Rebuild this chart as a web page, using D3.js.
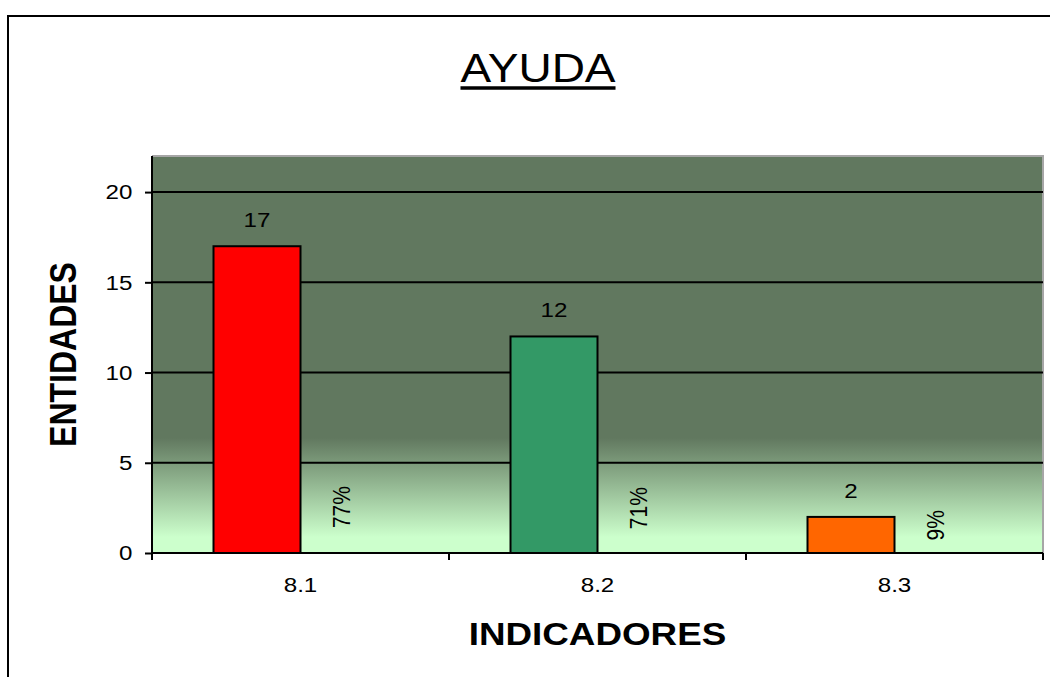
<!DOCTYPE html>
<html>
<head>
<meta charset="utf-8">
<script src="https://cdn.jsdelivr.net/npm/d3@7"></script>
<style>
  html, body { margin: 0; padding: 0; background: #ffffff; }
  svg { display: block; font-family: "Liberation Sans", Arial, sans-serif; }
</style>
</head>
<body>
<svg id="chart" width="1050" height="677"></svg>
<script>
// Indicator categories and their values
const categories = ["8.1", "8.2", "8.3"];
const counts = [17, 12, 2];
const shares = [0.77, 0.71, 0.09];
const shareLabels = ["77%", "71%", "9%"];
const yTicks = [0, 5, 10, 15, 20];
const barColors = ["#ff0000", "#339966", "#ff6600"];

const W = 1050, H = 677;
const plot = { left: 152, right: 1043, top: 156, bottom: 553 };
const SX = 1.15; // horizontal stretch of the lettering
const LABEL_SIZE = 21;

const svg = d3.select("#chart");

// Outer chart frame
svg.append("rect")
  .attr("x", 8).attr("y", 16)
  .attr("width", 1100).attr("height", 700)
  .attr("fill", "#ffffff")
  .attr("stroke", "#000").attr("stroke-width", 2);

// Scales
const x = d3.scaleBand().domain(categories).range([plot.left, plot.right]).paddingInner(0).paddingOuter(0);
const sub = d3.scaleBand().domain(["count", "share"]).range([0, x.bandwidth()]).paddingInner(0).paddingOuter(0.707);
const y = d3.scaleLinear().domain([0, 22]).range([plot.bottom, plot.top]);

// Plot background gradient
const defs = svg.append("defs");
const grad = defs.append("linearGradient").attr("id", "plotFill")
  .attr("x1", 0).attr("y1", 0).attr("x2", 0).attr("y2", 1);
[[0, "#61785f"], [0.71, "#61785f"], [0.96, "#ccffcc"], [1, "#ccffcc"]].forEach(([o, c]) =>
  grad.append("stop").attr("offset", o).attr("stop-color", c));

svg.append("rect")
  .attr("x", plot.left).attr("y", plot.top)
  .attr("width", plot.right - plot.left).attr("height", plot.bottom - plot.top)
  .attr("fill", "url(#plotFill)");

// Plot area border (top and right)
svg.append("path")
  .attr("d", `M${plot.left},${plot.top}H${plot.right}V${plot.bottom}`)
  .attr("fill", "none").attr("stroke", "#a6a6a6").attr("stroke-width", 2);

// Horizontal gridlines
svg.append("g").selectAll("line").data(yTicks.filter(t => t > 0)).join("line")
  .attr("x1", plot.left).attr("x2", plot.right)
  .attr("y1", d => y(d)).attr("y2", d => y(d))
  .attr("stroke", "#000").attr("stroke-width", 2);

// Count bars
svg.append("g").selectAll("rect").data(categories).join("rect")
  .attr("x", (c) => x(c) + sub("count"))
  .attr("y", (c, i) => y(counts[i]))
  .attr("width", sub.bandwidth())
  .attr("height", (c, i) => y(0) - y(counts[i]))
  .attr("fill", (c, i) => barColors[i])
  .attr("stroke", "#000").attr("stroke-width", 2);

// Count labels above bars
svg.append("g").selectAll("text").data(categories).join("text")
  .attr("transform", (c, i) => `translate(${x(c) + sub("count") + sub.bandwidth() / 2},${y(counts[i]) - 19}) scale(${SX},1)`)
  .attr("text-anchor", "middle")
  .attr("font-size", LABEL_SIZE)
  .attr("fill", "#000")
  .text((c, i) => counts[i]);

// Share labels, rotated, standing on their share value
svg.append("g").selectAll("text").data(categories).join("text")
  .attr("transform", (c, i) => `translate(${x(c) + sub("share") + sub.bandwidth() / 2 + 6},${y(shares[i]) - 11}) scale(${SX},1) rotate(-90)`)
  .attr("text-anchor", "start")
  .attr("font-size", LABEL_SIZE)
  .attr("fill", "#000")
  .text((c, i) => shareLabels[i]);

// Y axis
const yAxis = svg.append("g")
  .attr("transform", `translate(${plot.left},0)`)
  .call(d3.axisLeft(y).tickValues(yTicks).tickSize(7).tickPadding(10).tickSizeOuter(0));
yAxis.select(".domain").attr("stroke", "#000").attr("stroke-width", 2)
  .attr("d", `M0,${plot.top}V${plot.bottom}`);
yAxis.selectAll(".tick line").attr("stroke", "#000").attr("stroke-width", 2);
yAxis.selectAll(".tick text")
  .attr("font-size", LABEL_SIZE).attr("font-family", "Liberation Sans, Arial, sans-serif")
  .attr("fill", "#000")
  .attr("transform", `scale(${SX},1)`);

// X axis: labels centred in each band, ticks on band boundaries
const xAxis = svg.append("g")
  .attr("transform", `translate(0,${plot.bottom})`)
  .call(d3.axisBottom(x).tickSize(0).tickPadding(24).tickSizeOuter(0));
xAxis.select(".domain").attr("stroke", "#000").attr("stroke-width", 2)
  .attr("d", `M${plot.left},0H${plot.right}`);
xAxis.selectAll(".tick text")
  .attr("font-size", LABEL_SIZE).attr("font-family", "Liberation Sans, Arial, sans-serif")
  .attr("fill", "#000")
  .attr("transform", `scale(${SX},1)`);
const bounds = categories.map(c => x(c)).concat([plot.right]);
xAxis.append("g").selectAll("line").data(bounds).join("line")
  .attr("x1", d => d).attr("x2", d => d)
  .attr("y1", 0).attr("y2", 7)
  .attr("stroke", "#000").attr("stroke-width", 2);

// Title with underline
const title = svg.append("g").attr("transform", `translate(538,0) scale(${SX},1)`);
const tText = title.append("text")
  .attr("x", 0).attr("y", 82)
  .attr("text-anchor", "middle")
  .attr("font-size", 40)
  .attr("fill", "#000")
  .text("AYUDA");
const tw = tText.node().getComputedTextLength();
title.append("line")
  .attr("x1", -tw / 2).attr("x2", tw / 2)
  .attr("y1", 88).attr("y2", 88)
  .attr("stroke", "#000").attr("stroke-width", 3.5);

// Axis titles
svg.append("text")
  .attr("transform", `translate(${(plot.left + plot.right) / 2},645) scale(${SX},1)`)
  .attr("text-anchor", "middle")
  .attr("font-size", 32).attr("font-weight", "bold")
  .attr("fill", "#000")
  .text("INDICADORES");

svg.append("text")
  .attr("transform", `translate(76,${(plot.top + plot.bottom) / 2}) scale(${SX},1) rotate(-90)`)
  .attr("text-anchor", "middle")
  .attr("font-size", 32).attr("font-weight", "bold")
  .attr("fill", "#000")
  .text("ENTIDADES");
</script>
</body>
</html>
